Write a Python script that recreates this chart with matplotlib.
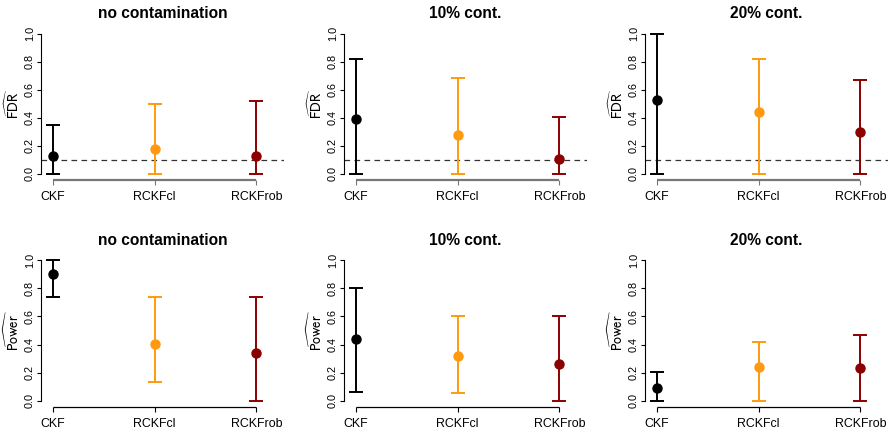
import matplotlib
matplotlib.use("Agg")
import matplotlib.pyplot as plt
import numpy as np

plt.rcParams['font.family'] = ['Liberation Sans', 'DejaVu Sans']
plt.rcParams['mathtext.fontset'] = 'stixsans'

methods = ["CKF", "RCKFcl", "RCKFrob"]
colors = ["black", "#FF9A10", "#8B0000"]
titles = ["no contamination", "10% cont.", "20% cont."]
fdr_target = 0.10

# FDR: estimate, lower, upper per scenario
fdr_est = [[0.13, 0.176, 0.13], [0.39, 0.28, 0.11], [0.527, 0.444, 0.297]]
fdr_lo = [[0.0, 0.0, 0.0], [0.0, 0.0, 0.0], [0.0, 0.0, 0.0]]
fdr_hi = [[0.35, 0.50, 0.52], [0.82, 0.684, 0.406], [1.0, 0.82, 0.672]]

# Power: estimate, lower, upper per scenario
pow_est = [[0.898, 0.407, 0.338], [0.437, 0.319, 0.265], [0.092, 0.239, 0.236]]
pow_lo = [[0.735, 0.135, 0.0], [0.064, 0.057, 0.0], [0.0, 0.0, 0.0]]
pow_hi = [[1.0, 0.735, 0.735], [0.80, 0.60, 0.60], [0.206, 0.421, 0.47]]

W, H = 890, 432
fig = plt.figure(figsize=(W / 100, H / 100), dpi=100)

lefts = [41, 344, 645]
pw = 243
rows = [(28.1, 179.6), (254.4, 406.6)]

def draw(ax, est, lo, hi, title, ylab, axcol, xcol_lw, dashed):
    x = np.arange(1, 4)
    for i in range(3):
        ax.errorbar([x[i]], [est[i]], yerr=[[est[i] - lo[i]], [hi[i] - est[i]]],
                    fmt='o', color=colors[i], ms=6.5, elinewidth=1.4,
                    capsize=4.7, capthick=1.4, zorder=3)
    if dashed:
        ax.axhline(fdr_target, color='#333333', lw=0.9, ls=(0, (4.5, 3.5)), zorder=1)
    ax.set_xlim(0.885, 3.27)
    ax.set_ylim(-0.04, 1.04)
    ax.set_xticks(x)
    ax.set_xticklabels(methods, fontsize=8.9)
    ax.tick_params(axis='x', length=3.5, width=0.8, pad=4.5, color=axcol)
    yt = np.arange(0, 1.01, 0.2)
    ax.set_yticks(yt)
    ax.set_yticklabels([f"{v:.1f}" for v in yt], rotation=90, va='center', fontsize=7.8)
    ax.tick_params(axis='y', length=2.8, width=0.8, pad=1.5)
    ax.set_title(title, fontsize=11.2, fontweight='bold', pad=7)
    ax.set_ylabel(ylab, fontsize=10)
    ax.yaxis.set_label_coords(-0.08, 0.5)
    ax.patch.set_visible(False)
    for s in ['top', 'right', 'bottom']:
        ax.spines[s].set_visible(False)
    ax.spines['left'].set_linewidth(0.8)
    ax.spines['left'].set_bounds(0, 1)
    # R-style x axis line spanning first to last category
    ax.plot([x[0], x[-1]], [0, 0], transform=ax.get_xaxis_transform(),
            color=axcol, lw=xcol_lw, clip_on=False, solid_capstyle='butt')

for j in range(3):
    top, bot = rows[0]
    ax = fig.add_axes([lefts[j] / W, 1 - bot / H, pw / W, (bot - top) / H])
    draw(ax, fdr_est[j], fdr_lo[j], fdr_hi[j], titles[j], r'$\widehat{\mathrm{FDR}}$',
         '#777777', 1.6, True)
    top, bot = rows[1]
    ax = fig.add_axes([lefts[j] / W, 1 - bot / H, pw / W, (bot - top) / H])
    draw(ax, pow_est[j], pow_lo[j], pow_hi[j], titles[j], r'$\widehat{\mathrm{Power}}$',
         'black', 0.9, False)

fig.savefig("out.png", dpi=100)
